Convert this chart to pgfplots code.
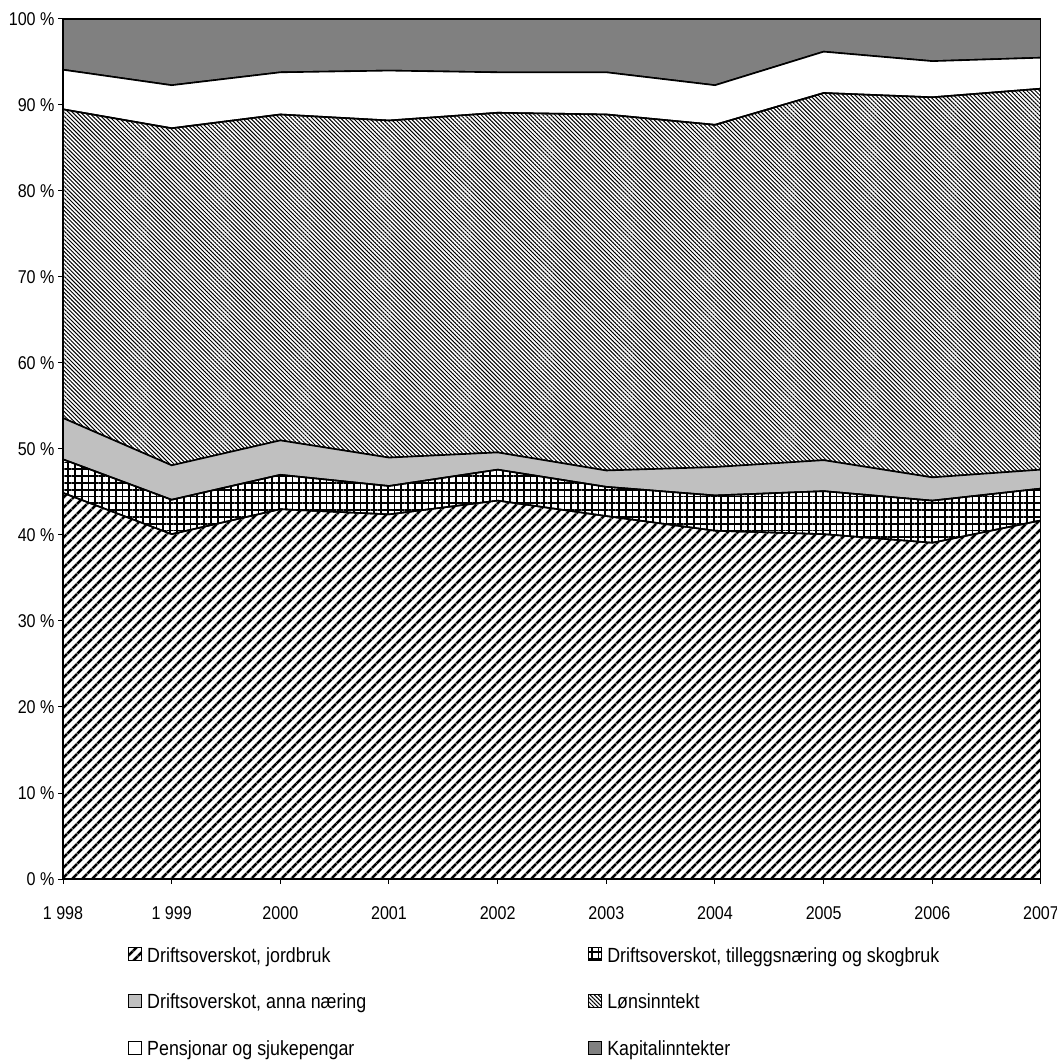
\documentclass[border=0pt]{standalone}
\usepackage{fontspec}
\setmainfont{Liberation Sans}[FakeStretch=0.87]
\usepackage{pgfplots}
\pgfplotsset{compat=1.18}
\usetikzlibrary{patterns.meta}
\definecolor{annagray}{HTML}{C0C0C0}
\definecolor{kapgray}{HTML}{808080}
\begin{document}
\begin{tikzpicture}
\useasboundingbox (0,0) rectangle (1057pt,1061pt);
\begin{axis}[
 at={(63pt,182pt)}, anchor=south west,
 width=978pt, height=860pt, scale only axis,
 xmin=1998, xmax=2007, ymin=0, ymax=100,
 stack plots=y,
 axis x line*=bottom, axis y line*=left,
 xtick={1998,1999,2000,2001,2002,2003,2004,2005,2006,2007},
 xticklabels={1 998,1 999,2000,2001,2002,2003,2004,2005,2006,2007},
 ytick={0,10,20,30,40,50,60,70,80,90,100},
 yticklabels={0 \%,10 \%,20 \%,30 \%,40 \%,50 \%,60 \%,70 \%,80 \%,90 \%,100 \%},
 tick align=outside, major tick length=5pt,
 every tick/.style={black, line width=1pt},
 axis line style={line width=1.2pt},
 tick label style={font=\fontsize{18.5}{22}\selectfont},
 xticklabel style={yshift=-19pt},
 legend columns=2, legend cell align=left,
 legend style={draw=none, fill=none, at={(0.0665,-0.0768)}, anchor=north west,
   font=\fontsize{20.5}{24}\selectfont,
   /tikz/column 1/.style={column sep=3pt},
   /tikz/column 2/.style={column sep=220pt},
   /tikz/column 3/.style={column sep=3pt},
   row sep=26.5pt, inner sep=0pt},
 legend image code/.code={\draw[#1, line width=1pt] (0pt,-5pt) rectangle (13pt,8pt);},
]
\addplot[draw=black, line width=1.6pt, pattern={Lines[angle=45,distance=7.4pt,line width=3pt]}] table {
x y
1998 44.9
1999 40.1
2000 43.0
2001 42.4
2002 44.0
2003 42.2
2004 40.5
2005 40.1
2006 39.1
2007 41.7
} \closedcycle;
\addlegendentry{Driftsoverskot, jordbruk}
\addplot[draw=black, line width=1.6pt, pattern={Hatch[angle=0,distance=6.8pt,line width=1.8pt]}] table {
x y
1998 3.9
1999 4.0
2000 4.0
2001 3.3
2002 3.6
2003 3.4
2004 4.1
2005 5.0
2006 4.9
2007 3.7
} \closedcycle;
\addlegendentry{Driftsoverskot, tilleggsnæring og skogbruk}
\addplot[draw=black, line width=1.6pt, fill=annagray] table {
x y
1998 4.8
1999 4.0
2000 4.0
2001 3.3
2002 2.0
2003 1.9
2004 3.3
2005 3.6
2006 2.7
2007 2.2
} \closedcycle;
\addlegendentry{Driftsoverskot, anna næring}
\addplot[draw=black, line width=1.6pt, pattern={Lines[angle=-45,distance=2.9pt,line width=1pt]}] table {
x y
1998 35.9
1999 39.2
2000 37.9
2001 39.2
2002 39.5
2003 41.4
2004 39.8
2005 42.7
2006 44.2
2007 44.3
} \closedcycle;
\addlegendentry{Lønsinntekt}
\addplot[draw=black, line width=1.6pt, fill=white] table {
x y
1998 4.6
1999 5.0
2000 4.9
2001 5.8
2002 4.7
2003 4.9
2004 4.6
2005 4.8
2006 4.2
2007 3.6
} \closedcycle;
\addlegendentry{Pensjonar og sjukepengar}
\addplot[draw=black, line width=1.6pt, fill=kapgray] table {
x y
1998 5.9
1999 7.7
2000 6.2
2001 6.0
2002 6.2
2003 6.2
2004 7.7
2005 3.8
2006 4.9
2007 4.5
} \closedcycle;
\addlegendentry{Kapitalinntekter}
\end{axis}
\end{tikzpicture}
\end{document}
